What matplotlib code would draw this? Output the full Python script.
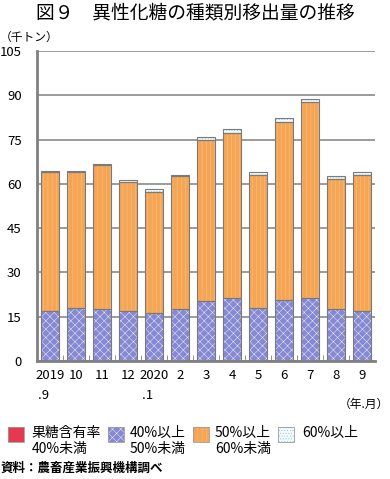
import matplotlib
matplotlib.use("Agg")
import matplotlib.pyplot as plt
import numpy as np
from matplotlib.patches import Rectangle

plt.rcParams["font.family"] = ["Noto Sans CJK JP", "DejaVu Sans"]
plt.rcParams["hatch.linewidth"] = 0.35

W, H = 390, 479

months = ["2019\n .9", "10", "11", "12", "2020\n .1", "2", "3", "4", "5", "6", "7", "8", "9"]
under40 = [0, 0, 0, 0, 0, 0, 0, 0, 0, 0, 0, 0, 0]
from40to50 = [16.8, 17.9, 17.7, 17.0, 16.2, 17.6, 20.4, 21.3, 17.9, 20.6, 21.3, 17.6, 17.1]
from50to60 = [47.2, 46.1, 48.8, 43.7, 41.2, 44.9, 54.6, 55.9, 45.1, 60.3, 66.4, 44.1, 45.8]
over60 = [0.4, 0.4, 0.2, 0.7, 0.8, 0.6, 0.9, 1.4, 0.9, 1.4, 1.2, 1.1, 1.0]

legend_labels = ["果糖含有率\n40%未満", "40%以上\n50%未満", "50%以上\n60%未満", "60%以上"]
styles = [
    ("#e63950", None, None),
    ("#8588d3", "#eeeef8", "xxxx"),
    ("#f5a553", "#f9c489", "||||"),
    ("#f4fbfc", "#86c6d4", "......"),
]

fig = plt.figure(figsize=(W / 100, H / 100), dpi=100)
ax = fig.add_axes([37 / W, 1 - 361 / H, (375 - 37) / W, (361 - 51) / H])


def px(x, y):
    return x / W, 1 - y / H


x = np.arange(len(months))
width = 0.73
bottom = np.zeros(len(months))
for vals, (face, hcol, hatch) in zip([under40, from40to50, from50to60, over60], styles):
    vals = np.array(vals)
    ax.bar(x, vals, width, bottom=bottom, color=face, linewidth=0, zorder=2)
    if hatch:
        ax.bar(x, vals, width, bottom=bottom, fill=False, edgecolor=hcol,
               hatch=hatch, linewidth=0, zorder=2.5)
    ax.bar(x, vals, width, bottom=bottom, fill=False, edgecolor="#7a7a7a",
           linewidth=0.8, zorder=3)
    bottom = bottom + vals

ax.set_xlim(-0.5, len(months) - 0.5)
ax.set_ylim(0, 105)
ax.set_yticks(np.arange(0, 106, 15))
ax.yaxis.grid(True, color="#808080", linewidth=1.1, zorder=0)
ax.set_axisbelow(True)
ax.set_xticks(x)
ax.set_xticklabels(months, fontsize=9.5, linespacing=1.7, multialignment="left")
ax.set_xticks(np.arange(0.5, len(months) - 1, 1), minor=True)
ax.tick_params(axis="x", which="major", length=0, pad=6)
ax.tick_params(axis="x", which="minor", direction="in", length=4, color="#808080")
ax.tick_params(axis="y", length=0, pad=11, labelsize=9.5)
for s in ["top", "right"]:
    ax.spines[s].set_visible(False)
for s in ["left", "bottom"]:
    ax.spines[s].set_color("#808080")
    ax.spines[s].set_linewidth(2)

fig.text(*px(195, 13), "図９　異性化糖の種類別移出量の推移", fontsize=13.5,
         ha="center", va="center")
fig.text(*px(0, 37), "（千トン）", fontsize=8.5, ha="left", va="center")
fig.text(*px(389, 404), "（年.月）", fontsize=8.5, ha="right", va="center")

sq_x = [8, 108, 193, 278]
txt_x = [32, 130, 215, 302]
for (face, hcol, hatch), label, sx, tx in zip(styles, legend_labels, sq_x, txt_x):
    fig.add_artist(Rectangle(px(sx, 442), 16 / W, 15 / H, transform=fig.transFigure,
                             facecolor=face, linewidth=0))
    if hatch:
        fig.add_artist(Rectangle(px(sx, 442), 16 / W, 15 / H, transform=fig.transFigure,
                                 fill=False, edgecolor=hcol, hatch=hatch, linewidth=0))
    fig.add_artist(Rectangle(px(sx, 442), 16 / W, 15 / H, transform=fig.transFigure,
                             fill=False, edgecolor="#9a9a9a", linewidth=0.6))
    fig.text(*px(tx, 426), label, fontsize=10, ha="left", va="top", linespacing=1.2)

fig.text(*px(1, 468), "資料：農畜産業振興機構調べ", fontsize=9, fontweight="bold",
         ha="left", va="center")

fig.savefig("out.png", dpi=100)
